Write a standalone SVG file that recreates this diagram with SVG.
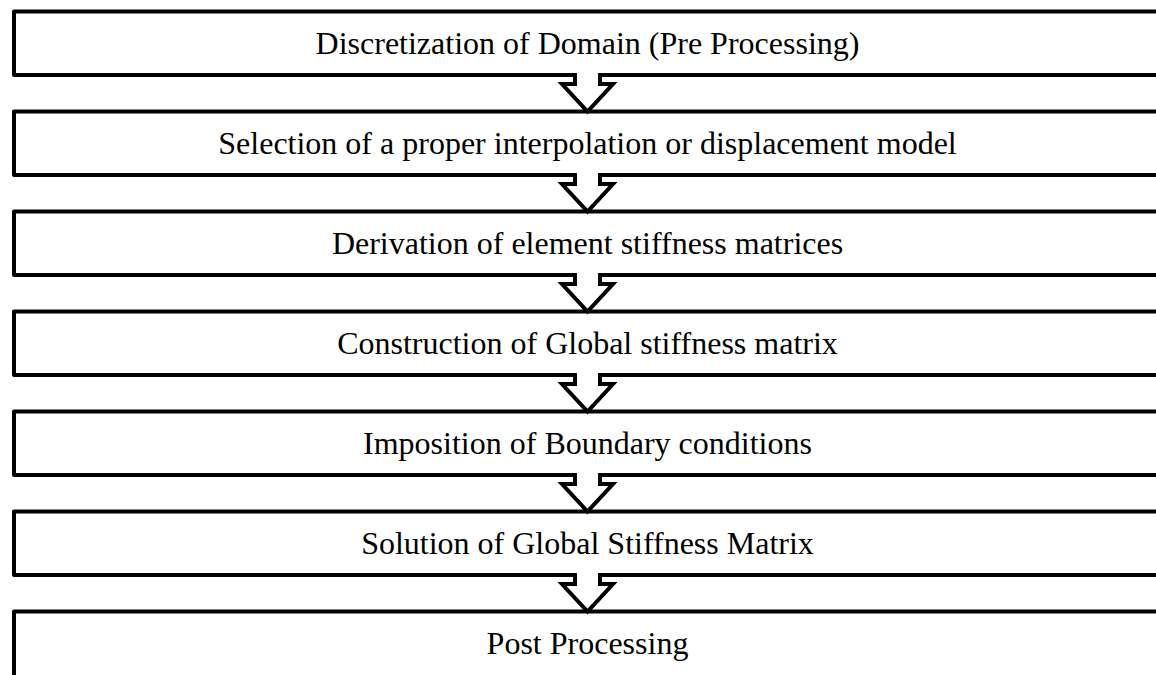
<svg xmlns="http://www.w3.org/2000/svg" width="1156" height="675" viewBox="0 0 1156 675">
<defs>
<style>
.box{fill:#fff;stroke:#000;stroke-width:4;stroke-linejoin:round}
.arr{fill:#fff;stroke:#000;stroke-width:4;stroke-linejoin:miter;stroke-miterlimit:10}
.t{font-family:"Liberation Serif","Times New Roman",serif;font-size:32px;fill:#000;text-anchor:middle}
</style>
<path id="arrowShape" class="arr" d="M575,73 V84 H562 L587.5,111.5 L613,84 H600 V73"/>
</defs>
<rect width="1156" height="675" fill="#fff"/>
<g id="n1"><rect class="box" x="14" y="11.5" width="1200" height="63.5"/><text class="t" x="587.5" y="53.5">Discretization of Domain (Pre Processing)</text></g>
<g id="n2"><rect class="box" x="14" y="111.5" width="1200" height="63.5"/><text class="t" x="587.5" y="153.5">Selection of a proper interpolation or displacement model</text></g>
<g id="n3"><rect class="box" x="14" y="211.5" width="1200" height="63.5"/><text class="t" x="587.5" y="253.5">Derivation of element stiffness matrices</text></g>
<g id="n4"><rect class="box" x="14" y="311.5" width="1200" height="63.5"/><text class="t" x="587.5" y="353.5">Construction of Global stiffness matrix</text></g>
<g id="n5"><rect class="box" x="14" y="411.5" width="1200" height="63.5"/><text class="t" x="587.5" y="453.5">Imposition of Boundary conditions</text></g>
<g id="n6"><rect class="box" x="14" y="511.5" width="1200" height="63.5"/><text class="t" x="587.5" y="553.5">Solution of Global Stiffness Matrix</text></g>
<g id="n7"><rect class="box" x="14" y="611.5" width="1200" height="120"/><text class="t" x="587.5" y="653.5">Post Processing</text></g>
<g id="connectors">
<use href="#arrowShape"/>
<use href="#arrowShape" y="100"/>
<use href="#arrowShape" y="200"/>
<use href="#arrowShape" y="300"/>
<use href="#arrowShape" y="400"/>
<use href="#arrowShape" y="500"/>
</g>
</svg>
